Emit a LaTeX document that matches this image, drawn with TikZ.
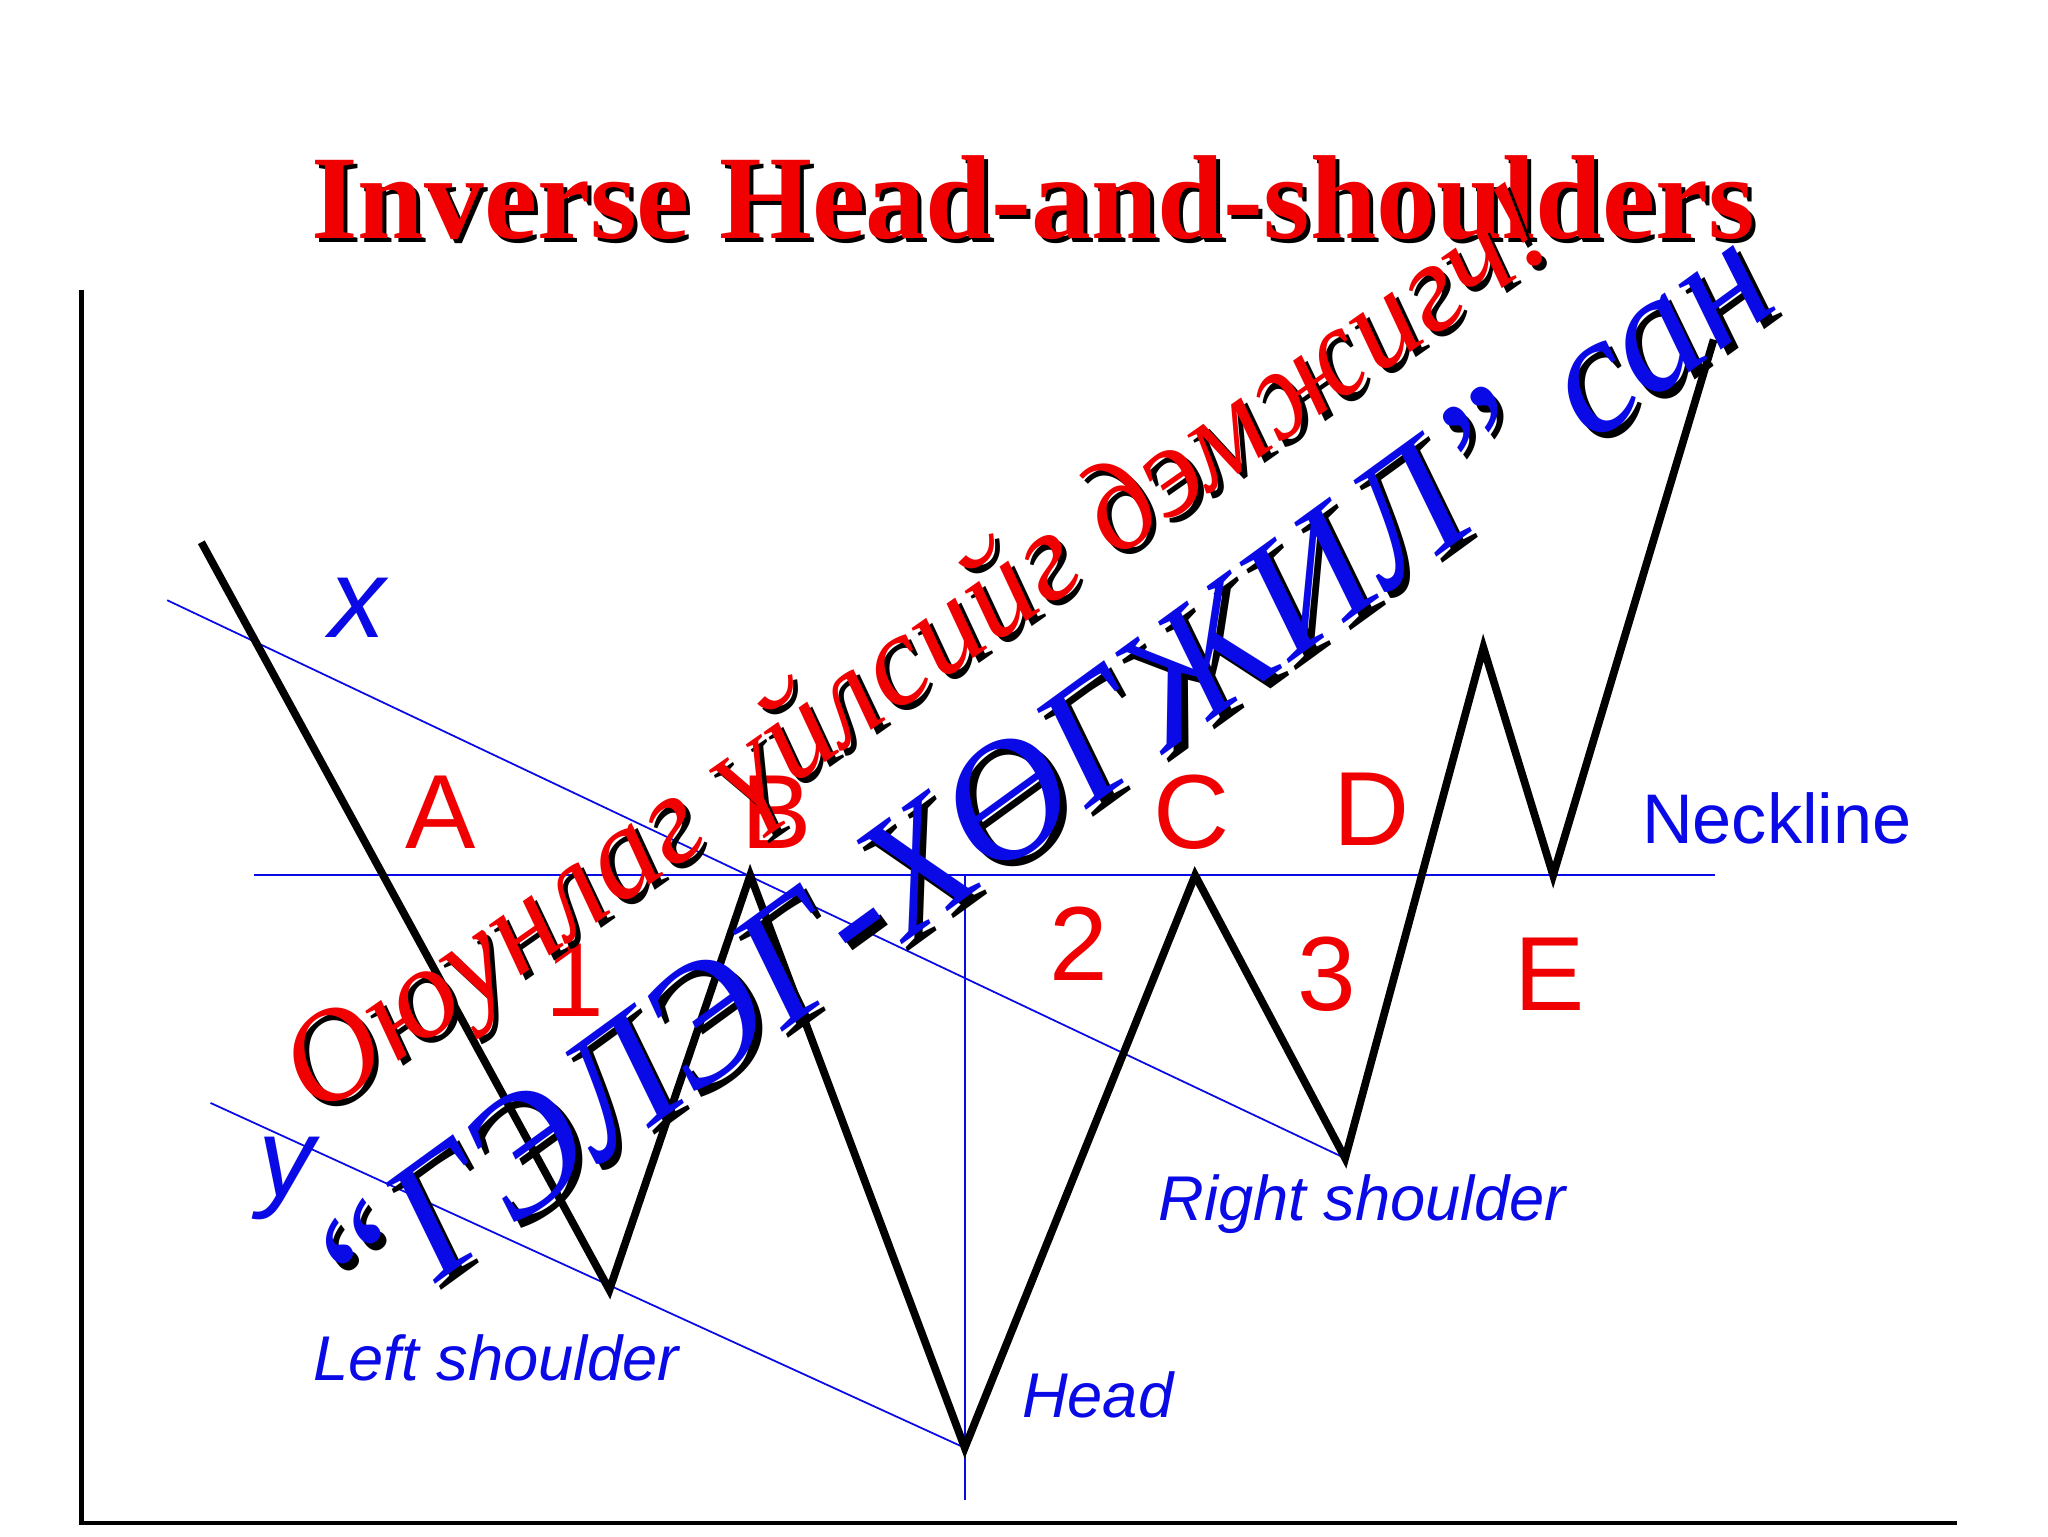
\documentclass[tikz,border=0pt]{standalone}
\usepackage{fontspec}
\setmainfont{Liberation Serif}
\setsansfont{Liberation Sans}
\definecolor{tred}{RGB}{240,0,0}
\definecolor{tblue}{RGB}{10,10,230}
\begin{document}
\begin{tikzpicture}[x=0.013162cm,y=-0.013162cm,
  lbl/.style={font=\sffamily\fontsize{30}{30}\selectfont,text=tred},
  note/.style={font=\sffamily\itshape\fontsize{18}{18}\selectfont,text=tblue},
  thin/.style={draw=tblue,line width=0.5pt},
  price/.style={draw=black,line width=2.2pt,line join=miter}]
\useasboundingbox (0,0) rectangle (1556,1167);
% title
\node[font=\bfseries\fontsize{34}{34}\selectfont,text=black] at (788,153) {Inverse Head-and-shoulders};
\node (title)[font=\bfseries\fontsize{34}{34}\selectfont,text=tred] at (785,150) {Inverse Head-and-shoulders};
% axes
\coordinate (o) at (62,1157);
\draw[line width=1.2pt] (62,220) -- (o) -- (1487,1157);
% guide lines
\coordinate (n1) at (193,665); \coordinate (n2) at (1303,665);
\coordinate (x1) at (127,456); \coordinate (x2) at (1022,880);
\coordinate (y1) at (160,838); \coordinate (y2) at (733,1100);
\coordinate (h1) at (733,665); \coordinate (h2) at (733,1140);
\draw[thin] (n1) -- (n2);
\draw[thin] (x1) -- (x2);
\draw[thin] (y1) -- (y2);
\draw[thin] (h1) -- (h2);
% price line
\coordinate (p0) at (153,412); \coordinate (p1) at (463,980);
\coordinate (p2) at (570,665); \coordinate (p3) at (733,1100);
\coordinate (p4) at (908,665); \coordinate (p5) at (1022,880);
\coordinate (p6) at (1127,492); \coordinate (p7) at (1180,665);
\coordinate (p8) at (1302,258);
\draw[price] (p0)--(p1)--(p2)--(p3)--(p4)--(p5)--(p6)--(p7)--(p8);
% labels
\node (A)[lbl] at (335,617) {A};
\node (B)[lbl] at (590,617) {B};
\node (C)[lbl] at (905,617) {C};
\node (D)[lbl] at (1042,615) {D};
\node (E)[lbl] at (1177,740) {E};
\node (one)[lbl] at (437,745) {1};
\node (two)[lbl] at (820,717) {2};
\node (three)[lbl] at (1008,740) {3};
\node (xl)[note,font=\sffamily\itshape\fontsize{32}{32}\selectfont] at (272,462) {x};
\node (yl)[note,font=\sffamily\itshape\fontsize{32}{32}\selectfont] at (218,895) {y};
\node (neck)[note,font=\sffamily\fontsize{20}{20}\selectfont] at (1350,622) {Neckline};
\node (ls)[note] at (377,1032) {Left shoulder};
\node (hd)[note] at (834,1060) {Head};
\node (rs)[note] at (1035,915) {Right shoulder};
% watermarks
\node[rotate=35,font=\itshape\fontsize{37}{37}\selectfont,text=black] at (703,503) {Оюунлаг үйлсийг дэмжигч!};
\node (w1)[rotate=35,font=\itshape\fontsize{37}{37}\selectfont,text=tred] at (699,499) {Оюунлаг үйлсийг дэмжигч!};
\node[rotate=36,font=\itshape\fontsize{48}{48}\selectfont,text=black] at (795,595) {“ГЭЛЭГ-ХӨГЖИЛ” сан};
\node (w2)[rotate=36,font=\itshape\fontsize{48}{48}\selectfont,text=tblue] at (790,590) {“ГЭЛЭГ-ХӨГЖИЛ” сан};
\end{tikzpicture}
\end{document}
